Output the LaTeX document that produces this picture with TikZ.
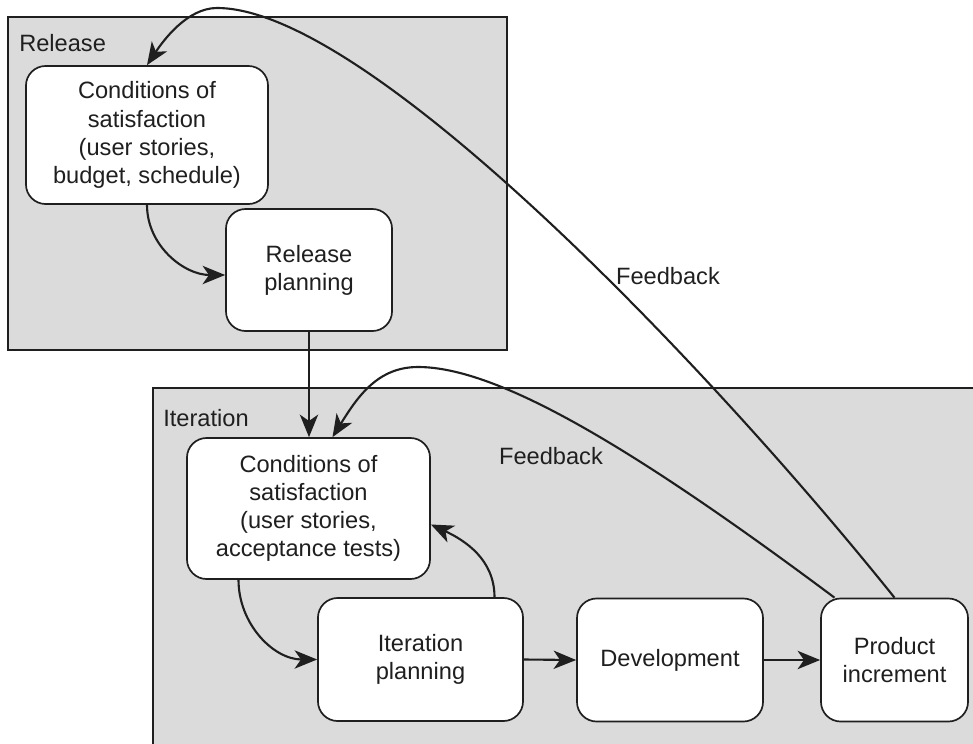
\documentclass[tikz,border=0pt]{standalone}
\usepackage{fontspec}
\setmainfont{Liberation Sans}
\usetikzlibrary{arrows.meta,calc}
\tikzset{
  panel/.style={fill=bgx,draw=inkx,line width=1.2pt},
  stepbox/.style={draw=inkx,fill=white,line width=1.2pt,rounded corners=14pt,align=center,inner sep=0pt,text=inkx,font=\fontsize{16.8}{20}\selectfont},
  tag/.style={text=inkx,inner sep=0pt,font=\fontsize{16.8}{20}\selectfont},
  flow/.style={draw=inkx,line width=1.5pt,-{Stealth[length=16pt,width=13pt,inset=4.5pt]}}
}

\begin{document}
\begin{tikzpicture}[x=0.025cm,y=0.025cm]
    \colorlet{inkx}{black!88}
    \colorlet{bgx}{black!14}

    \useasboundingbox (0,0) rectangle (973,-743);

    \fill [bgx] (153,-388) rectangle (990,-760);
    \draw [inkx,line width=1.2pt] (153,-760) -- (153,-388) -- (990,-388);
    \draw [panel] (8,-17) rectangle (507,-350);

    \node [tag,anchor=west] (reltag) at (19,-43) {Release};
    \node [tag,anchor=west] (itertag) at (163,-418) {Iteration};

    \node [stepbox,minimum width=6.05cm,minimum height=3.45cm] (cosrel) at (147,-135)
        {Conditions of\\satisfaction\\(user stories,\\budget, schedule)};
    \node [stepbox,minimum width=4.15cm,minimum height=3.05cm] (relplan) at (309,-270)
        {Release\\planning};
    \node [stepbox,minimum width=6.075cm,minimum height=3.525cm] (cositer) at (308.5,-508.5)
        {Conditions of\\satisfaction\\(user stories,\\acceptance tests)};
    \node [stepbox,minimum width=5.125cm,minimum height=3.075cm] (iterplan) at (420.5,-659.5)
        {Iteration\\planning};
    \node [stepbox,minimum width=4.65cm,minimum height=3.075cm] (dev) at (670,-660)
        {Development};
    \node [stepbox,minimum width=3.675cm,minimum height=3.075cm] (prodinc) at (894.5,-660)
        {Product\\increment};

    \node [tag] (fbrel) at (668,-276) {Feedback};
    \node [tag] (fbiter) at (551,-456) {Feedback};

    \draw [flow] (cosrel.south) to [out=-90,in=180] ($(relplan.west)+(0,-5)$);
    \draw [flow] (relplan.south) -- (relplan.south |- cositer.north);
    \draw [flow] ($(cositer.south)+(-70,0)$) to [out=-90,in=180] (iterplan.west);
    \draw [flow] ($(iterplan.north)+(74,0)$) to [out=90,in=-25] ($(cositer.east)+(0,-16)$);
    \draw [flow] (iterplan.east) -- (dev.west);
    \draw [flow] (dev.east) -- (prodinc.west);
    \draw [flow] (prodinc.north)
        .. controls (707,-364) and (367,-8) .. (217,-8)
        .. controls (187,-8) and (163,-41) .. (cosrel.north);
    \draw [flow] ($(prodinc.north)+(-60,0)$)
        .. controls (634,-448) and (498,-367) .. (418,-367)
        .. controls (378,-367) and (358,-396) .. ($(cositer.north)+(24,0)$);
\end{tikzpicture}
\end{document}
